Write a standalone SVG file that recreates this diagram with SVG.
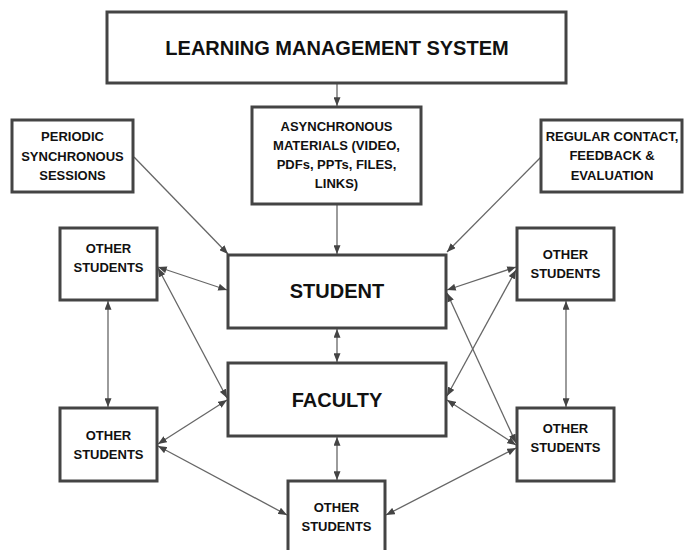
<svg xmlns="http://www.w3.org/2000/svg" width="684" height="550" viewBox="0 0 684 550">
<defs>
<style>
.box{fill:#fff;stroke:#444;stroke-width:3}
.shadow{fill:none;stroke:#ccc;stroke-width:2}
.t{font-family:"Liberation Sans",Arial,sans-serif;font-weight:bold;font-size:13px;fill:#111;text-anchor:middle}
.big{font-size:20px}
.c{stroke:#666;stroke-width:1.3;fill:none}
.one{marker-end:url(#ah)}
.two{marker-start:url(#ah);marker-end:url(#ah)}
</style>
<marker id="ah" viewBox="0 0 10 8" refX="10" refY="4" markerWidth="9" markerHeight="7" markerUnits="userSpaceOnUse" orient="auto-start-reverse">
<path d="M0,0 L10,4 L0,8 z" fill="#444"/>
</marker>
</defs>
<rect width="684" height="550" fill="#fff"/>
<g id="connectors">
<line class="c one" x1="337" y1="83" x2="337" y2="106"/>
<line class="c one" x1="337" y1="204" x2="337" y2="254"/>
<line class="c two" x1="337" y1="329" x2="337" y2="362"/>
<line class="c two" x1="337" y1="437" x2="337" y2="480"/>
<line class="c one" x1="134" y1="157" x2="228" y2="254"/>
<line class="c one" x1="541" y1="157" x2="447" y2="252"/>
<line class="c two" x1="158" y1="267" x2="227" y2="290"/>
<line class="c two" x1="158" y1="268" x2="227" y2="398"/>
<line class="c two" x1="108" y1="301" x2="108" y2="407"/>
<line class="c two" x1="227" y1="400" x2="158" y2="444"/>
<line class="c two" x1="158" y1="446" x2="287" y2="515"/>
<line class="c two" x1="516" y1="267" x2="447" y2="290"/>
<line class="c two" x1="516" y1="270" x2="447" y2="396"/>
<line class="c two" x1="447" y1="293" x2="516" y2="443"/>
<line class="c two" x1="447" y1="400" x2="516" y2="445"/>
<line class="c two" x1="516" y1="448" x2="386" y2="515"/>
<line class="c two" x1="566" y1="301" x2="566" y2="407"/>
</g>
<g id="lms">
<rect class="box" x="107" y="12" width="459" height="71"/>
<text class="t big" x="337" y="55">LEARNING MANAGEMENT SYSTEM</text>
</g>
<g id="async">
<rect class="box" x="252" y="107" width="169" height="97"/>
<text class="t" x="336.5" y="131">ASYNCHRONOUS</text>
<text class="t" x="336.5" y="150">MATERIALS (VIDEO,</text>
<text class="t" x="336.5" y="169">PDFs, PPTs, FILES,</text>
<text class="t" x="336.5" y="188">LINKS)</text>
</g>
<g id="periodic">
<rect class="box" x="12" y="120" width="121" height="72"/>
<text class="t" x="72.5" y="141">PERIODIC</text>
<text class="t" x="72.5" y="161">SYNCHRONOUS</text>
<text class="t" x="72.5" y="180">SESSIONS</text>
</g>
<g id="regular">
<rect class="box" x="541" y="120" width="141" height="72"/>
<text class="t" x="612" y="141">REGULAR CONTACT,</text>
<text class="t" x="612" y="160">FEEDBACK &amp;</text>
<text class="t" x="612" y="180">EVALUATION</text>
</g>
<g id="student">
<rect class="box" x="228" y="255" width="218" height="73"/>
<text class="t big" x="337" y="298">STUDENT</text>
</g>
<g id="faculty">
<rect class="box" x="228" y="363" width="218" height="73"/>
<text class="t big" x="337" y="407">FACULTY</text>
</g>
<g id="other-tl">
<rect class="box" x="60" y="228" width="97" height="72"/>
<text class="t" x="108.5" y="253">OTHER</text>
<text class="t" x="108.5" y="272">STUDENTS</text>
</g>
<g id="other-bl">
<rect class="box" x="60" y="408" width="97" height="73"/>
<text class="t" x="108.5" y="440">OTHER</text>
<text class="t" x="108.5" y="459">STUDENTS</text>
</g>
<g id="other-tr">
<rect class="box" x="517" y="228" width="97" height="72"/>
<text class="t" x="565.5" y="259">OTHER</text>
<text class="t" x="565.5" y="278">STUDENTS</text>
</g>
<g id="other-br">
<rect class="box" x="517" y="408" width="97" height="73"/>
<text class="t" x="565.5" y="433">OTHER</text>
<text class="t" x="565.5" y="452">STUDENTS</text>
</g>
<g id="other-b">
<rect class="box" x="288" y="481" width="97" height="74"/>
<text class="t" x="336.5" y="512">OTHER</text>
<text class="t" x="336.5" y="531">STUDENTS</text>
</g>
</svg>
